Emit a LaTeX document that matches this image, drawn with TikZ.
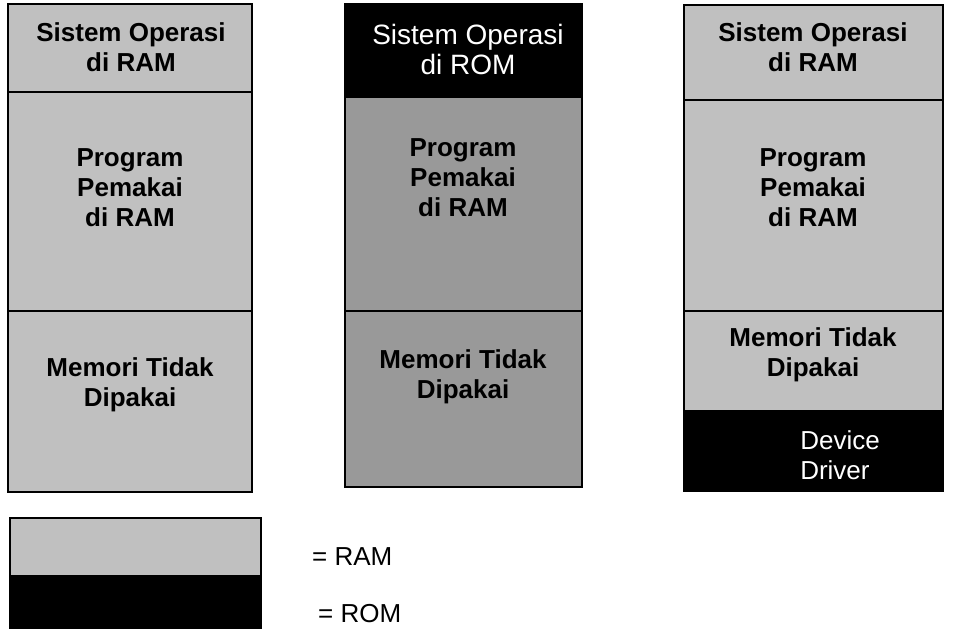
\documentclass[tikz,border=0pt]{standalone}
\usepackage{fontspec}
\setmainfont{Liberation Sans}
\usetikzlibrary{positioning}

\definecolor{ramlight}{RGB}{192,192,192}
\definecolor{ramdark}{RGB}{153,153,153}

\begin{document}
\begin{tikzpicture}[x=1pt, y=-1pt]
\tikzstyle{cell}=[draw, line width=1.5pt]
\tikzstyle{boldlbl}=[align=center, inner sep=0pt, font=\fontsize{26}{30}\selectfont\bfseries]
\tikzstyle{romlbl}=[align=center, inner sep=0pt, text=white, font=\fontsize{26}{30}\selectfont]
\tikzstyle{keylbl}=[anchor=west, inner sep=0pt, font=\fontsize{26}{30}\selectfont]
\useasboundingbox (0,0) rectangle (955,630);

% kolom 1: semua di RAM
\filldraw[cell, fill=ramlight] (8,4) rectangle (252,92);
\filldraw[cell, fill=ramlight] (8,92) rectangle (252,311);
\filldraw[cell, fill=ramlight] (8,311) rectangle (252,492);
\node[boldlbl] (os1) at (131,47) {Sistem Operasi\\di RAM};
\node[boldlbl] (prog1) at (130,188) {Program\\Pemakai\\di RAM};
\node[boldlbl] (free1) at (130,385) {Memori Tidak\\Dipakai};

% kolom 2: sistem operasi di ROM
\filldraw[cell, fill=black] (345,4) rectangle (582,97);
\filldraw[cell, fill=ramdark] (345,97) rectangle (582,311);
\filldraw[cell, fill=ramdark] (345,311) rectangle (582,487);
\node[romlbl, font=\fontsize{28}{30}\selectfont] (os2) at (468,49) {Sistem Operasi\\di ROM};
\node[boldlbl] (prog2) at (463,178) {Program\\Pemakai\\di RAM};
\node[boldlbl] (free2) at (463,377) {Memori Tidak\\Dipakai};

% kolom 3: device driver di ROM
\filldraw[cell, fill=ramlight] (684,5) rectangle (943,100);
\filldraw[cell, fill=ramlight] (684,100) rectangle (943,311);
\filldraw[cell, fill=ramlight] (684,311) rectangle (943,411);
\filldraw[cell, fill=black] (684,411) rectangle (943,491);
\node[boldlbl] (os3) at (813,47) {Sistem Operasi\\di RAM};
\node[boldlbl] (prog3) at (813,188) {Program\\Pemakai\\di RAM};
\node[boldlbl] (free3) at (813,355) {Memori Tidak\\Dipakai};
\node[romlbl, align=left] (drv3) at (840,455) {Device\\Driver};

% keterangan
\filldraw[cell, fill=ramlight] (10,518) rectangle (261,576);
\filldraw[cell, fill=black] (10,576) rectangle (261,628);
\node[keylbl] (keyram) at (312,557) {= RAM};
\node[keylbl] (keyrom) at (318,614) {= ROM};
\end{tikzpicture}
\end{document}
